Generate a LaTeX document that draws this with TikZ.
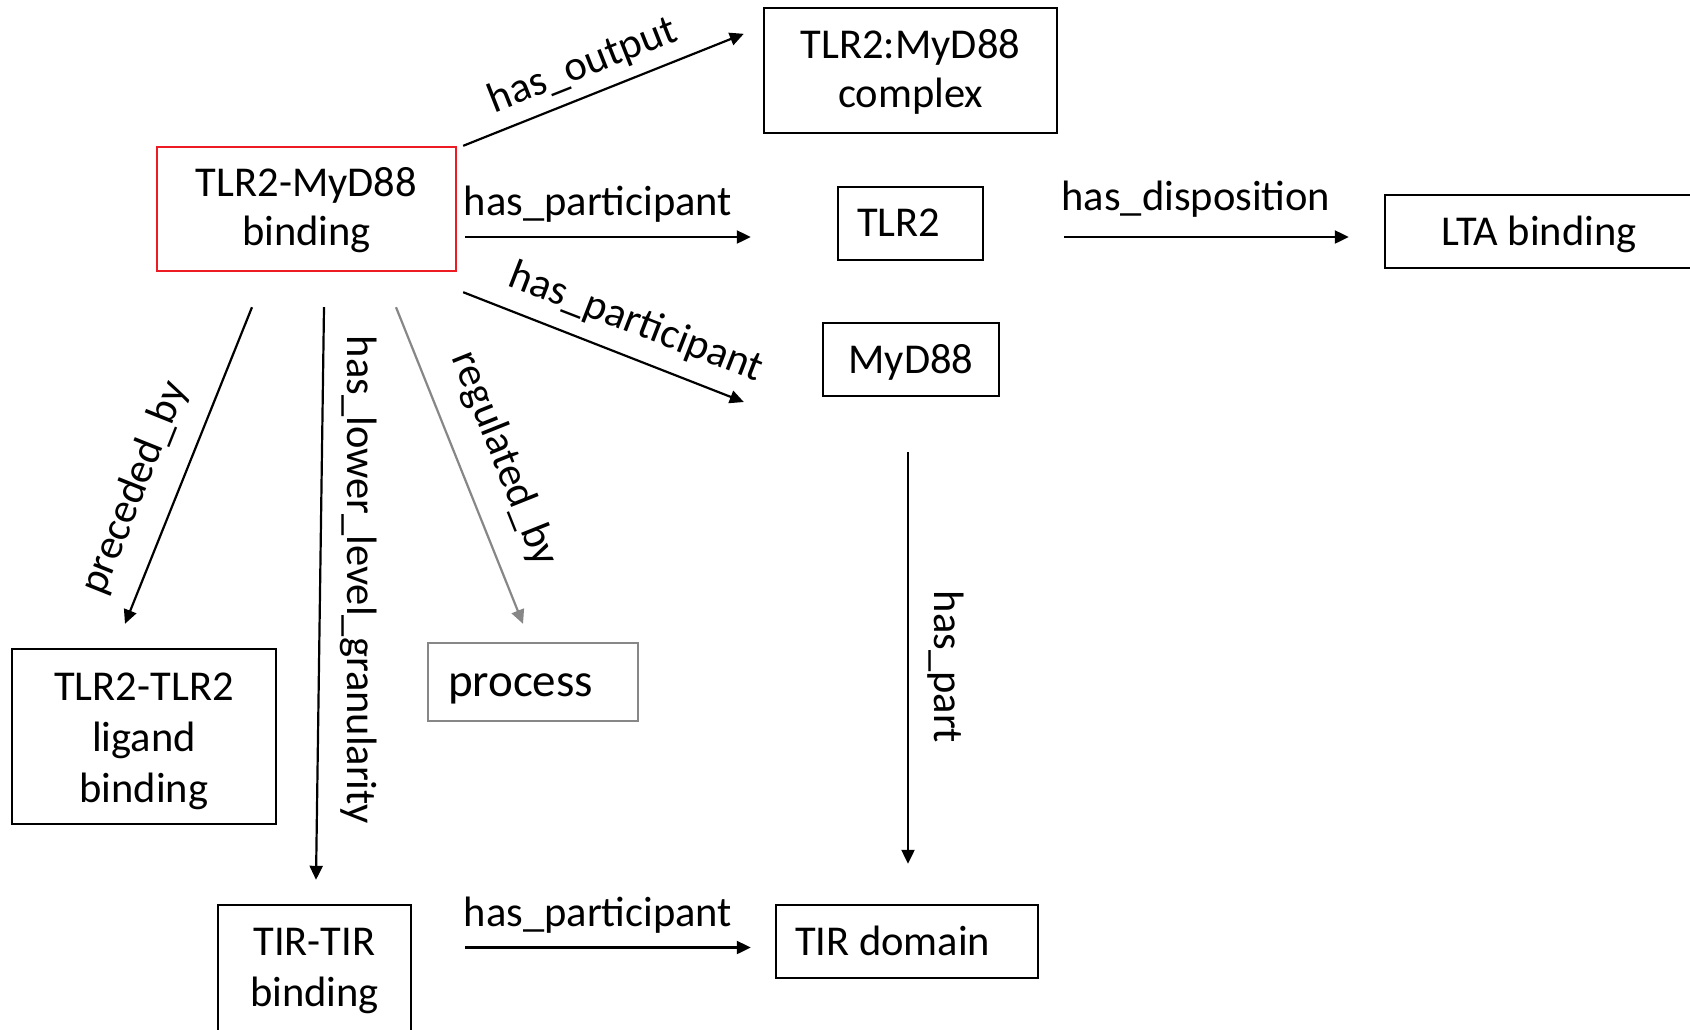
\documentclass[tikz,border=0pt]{standalone}
\usepackage{fontspec}
\setmainfont{Carlito}
\usetikzlibrary{arrows.meta,calc}
\definecolor{boxred}{RGB}{237,28,36}
\definecolor{linkgray}{RGB}{135,135,135}
% invisible struts that fix the height of a first line and the depth of a last line
\newcommand\capstrut[1]{\rule{0pt}{#1pt}}
\newcommand\descstrut{\rule[-10pt]{0pt}{10pt}}

\begin{document}
\begin{tikzpicture}[x=1pt,y=-1pt,
  every node/.style={font=\fontsize{42.5}{49}\selectfont, inner sep=0pt},
  term/.style={draw=black, line width=2.4pt, align=center},
  oneline/.style={text height=37pt, text depth=10pt},
  lefterm/.style={term, oneline, align=flush left, inner xsep=19pt},
  conn/.style={line width=2.2pt, -{Triangle[length=14pt,width=13pt]}},
  lbl/.style={anchor=center}]

% canvas
\useasboundingbox (0,0) rectangle (1690,1029);
\clip (0,0) rectangle (1690,1029);
\fill[white] (0,0) rectangle (1690,1029);

% terms
\node[term, draw=boxred, minimum width=299pt, minimum height=124pt] (main) at (306.5,209)
  {\capstrut{33.4}TLR2-MyD88\\binding\descstrut};
\node[term, minimum width=293pt, minimum height=125pt] (cplx) at (910.5,70.5)
  {\capstrut{35.6}TLR2:MyD88\\complex\descstrut};
\node[lefterm, text width=107pt, minimum height=73pt, text height=35pt] (tlr2) at (910.5,223.5) {TLR2};
\node[term, oneline, minimum width=308pt, minimum height=73pt] (lta) at (1539,231.5) {LTA binding};
\node[term, oneline, minimum width=176pt, minimum height=73pt] (myd88) at (911,359.5) {MyD88};
\node[term, minimum width=264pt, minimum height=175pt, font=\fontsize{42.5}{51}\selectfont] (ligand) at (144,736.5)
  {\capstrut{39}TLR2-TLR2\\ligand\\binding\descstrut};
\node[lefterm, draw=linkgray, text width=170pt, minimum height=78pt, inner xsep=20pt,
      text height=38pt, font=\fontsize{47}{56}\selectfont] (proc) at (533,682) {process};
\node[term, minimum width=193pt, minimum height=132pt, font=\fontsize{42.5}{51}\selectfont] (tirtir) at (314.5,971)
  {\capstrut{29}TIR-TIR\\binding\descstrut};
\node[lefterm, text width=224pt, minimum height=73pt] (tirdom) at (907,941.5) {TIR domain};

% relations
\draw[conn] ($(main.north east)+(6,0)$) -- ($(cplx.north west)+(-19,27)$);
\draw[conn] ($(main.east)+(8,28)$) -- ($(tlr2.west)+(-86,13.5)$);
\draw[conn] ($(main.south east)+(6,20)$) -- ($(myd88.west)+(-78,42.5)$);
\draw[conn] ($(main.south)+(-54.5,35)$) -- ($(ligand.north)+(-19,-24)$);
\draw[conn] ($(main.south)+(17.5,35)$) -- ($(tirtir.north)+(1.5,-24)$);
\draw[conn, draw=linkgray, fill=linkgray] ($(main.south)+(89.5,35)$) -- ($(proc.north)+(-10,-18)$);
\draw[conn] ($(tlr2.east)+(80,13.5)$) -- ($(lta.west)+(-35,5.5)$);
\draw[conn] ($(myd88.south)+(-3,55)$) -- ($(tirdom.north)+(1,-40)$);
\draw[conn] ($(tirtir.east)+(53,-23.5)$) -- ($(tirdom.west)+(-24,6)$);

% relation labels
\node[lbl, rotate=21.6] (l-out) at (583,66) {has\_output};
\node[anchor=base] (l-p1) at (598,215) {has\_participant};
\node[lbl, rotate=-21.2] (l-p2) at (636,323) {has\_participant};
\node[anchor=base] (l-disp) at (1196,210) {has\_disposition};
\node[lbl, rotate=68.2] (l-prec) at (135,488) {preceded\_by};
\node[lbl, rotate=-90] (l-gran) at (359,580) {has\_lower\_level\_granularity};
\node[lbl, rotate=-68.2] (l-reg) at (504,459) {regulated\_by};
\node[lbl, rotate=-90] (l-part) at (946,667) {has\_part};
\node[anchor=base] (l-p3) at (598,926.5) {has\_participant};

\end{tikzpicture}
\end{document}
